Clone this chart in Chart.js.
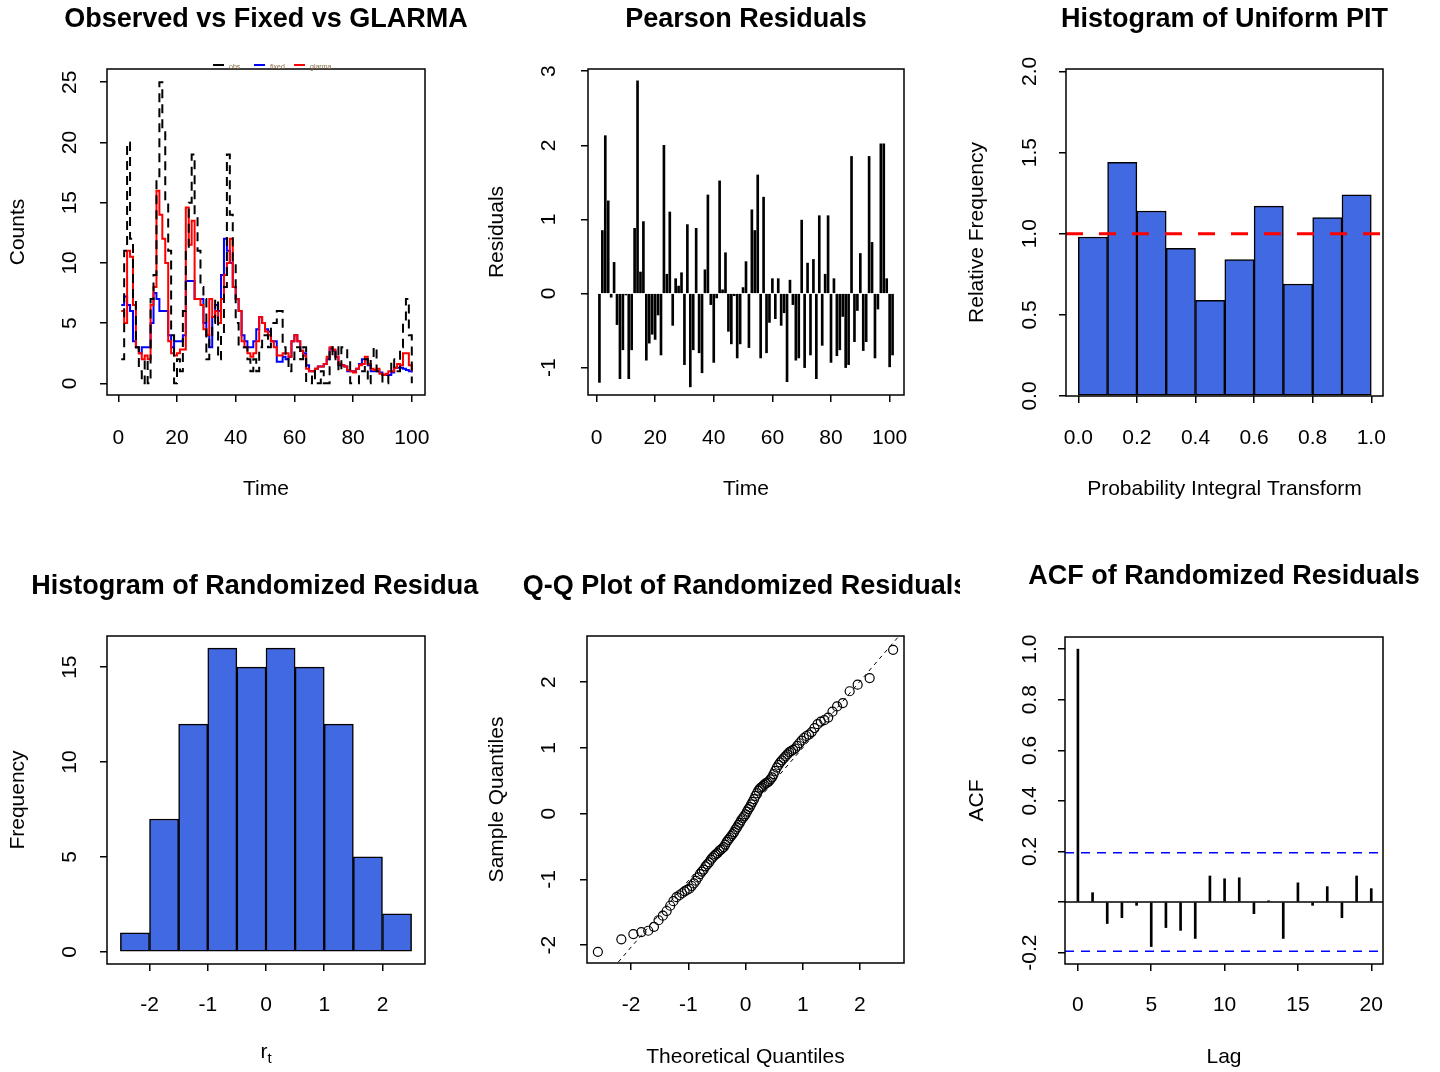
<!DOCTYPE html>
<html>
<head>
<meta charset="utf-8">
<script src="https://cdn.jsdelivr.net/npm/chart.js@4.4.1/dist/chart.umd.min.js"></script>
<style>
  html, body { margin: 0; padding: 0; background: #fff; }
  #wrap { position: relative; width: 1440px; height: 1072px; overflow: hidden; background: #fff; }
  #wrap canvas { position: absolute; }
</style>
</head>
<body>
<div id="wrap">
  <canvas id="p1" width="480" height="536" style="left:0px;top:0px"></canvas>
  <canvas id="p2" width="480" height="536" style="left:480px;top:0px"></canvas>
  <canvas id="p3" width="480" height="536" style="left:960px;top:0px"></canvas>
  <canvas id="p4" width="480" height="536" style="left:0px;top:536px"></canvas>
  <canvas id="p5" width="480" height="536" style="left:480px;top:536px"></canvas>
  <canvas id="p6" width="480" height="536" style="left:960px;top:536px"></canvas>
</div>
<script>
// --- data ---

// panel 1: observed counts, fixed fit, glarma fit
const obsCounts = [2, 11, 20, 12, 7, 3, 1, 0, 2, 0,
  7, 9, 17, 25, 21, 15, 11, 4, 0, 2,
  1, 6, 11, 15, 19, 14, 11, 8, 7, 2,
  4, 5, 7, 2, 4, 8, 19, 14, 10, 5,
  3, 3, 3, 2, 1, 2, 1, 3, 4, 4,
  3, 5, 5, 6, 6, 3, 2, 1, 2, 3,
  3, 2, 3, 0, 0, 1, 0, 0, 1, 0,
  0, 3, 2, 3, 1, 3, 3, 2, 0, 0,
  0, 1, 1, 2, 0, 2, 3, 1, 1, 0,
  0, 1, 2, 1, 1, 3, 5, 7, 4, 0]
const fixedFit = [6.5, 7.2, 6.5, 6, 3.5, 3, 2.5, 3, 3, 3,
  5, 7.5, 7, 6, 6, 6, 4, 3, 3.5, 3.5,
  3.5, 4, 8.5, 8.5, 8.5, 7, 7, 7, 5, 4,
  3, 5.5, 6.5, 6, 9, 12, 11, 10, 8, 7,
  6, 4, 3.5, 3, 3, 3.5, 4.5, 5.5, 5, 4.5,
  4.3, 3.5, 3.5, 1.8, 1.8, 2.2, 2, 2.2, 3.5, 4,
  3.5, 2.7, 2.5, 1.5, 1, 1, 1.2, 1.4, 1.4, 1.6,
  2, 2.9, 2.7, 2.2, 1.5, 1.5, 1.4, 1, 1, 1,
  1.2, 1.6, 2, 2, 1.5, 1, 1, 1, 0.9, 0.7,
  0.7, 0.7, 0.9, 1.3, 1.3, 1.3, 1.2, 1.1, 1, 0.9]
const glarmaFit = [6, 5, 11, 10.5, 6.5, 3, 2.5, 2, 2.3, 2,
  6.5, 8, 16, 14, 12, 10, 3.5, 2.5, 2.3, 2.5,
  2.8, 2.8, 14.6, 11.5, 13.5, 7, 7, 6.5, 4.5, 4,
  7, 5.5, 6, 5, 7, 9, 10, 12, 8, 7,
  6, 3.5, 3, 2.5, 2.2, 2.5, 3.5, 5.5, 5, 4.3,
  4, 3.5, 3, 2.3, 2.3, 2.5, 2.5, 2.2, 3.5, 4,
  3.5, 2.7, 2.3, 1.2, 1, 1, 1.2, 1.4, 1.4, 1.6,
  2.2, 3, 2.8, 2.2, 1.6, 1.5, 1.4, 1.1, 1, 0.9,
  1.2, 1.5, 1.6, 2.2, 1.6, 1.2, 1.1, 1.2, 0.8, 0.7,
  0.8, 1, 1, 1.3, 1.6, 1.5, 2.5, 2.5, 1.5, 1]

// panel 2: pearson residuals
const pearsonResid = [-1.2, 0.85, 2.13, 1.25, -0.05, 0.42, -0.42, -1.15, -0.76, -0.02,
  -1.15, -0.76, 0.88, 2.87, 0.29, 0.97, -0.9, -0.67, -0.55, -0.62,
  -0.29, -0.83, 2.0, 0.26, 1.1, -0.43, 0.2, 0.1, 0.28, -0.96,
  0.93, -1.26, -0.76, 0.88, -0.8, -1.07, 0.32, 1.33, -0.15, -0.93,
  -0.06, 1.52, 0.05, 0.55, -0.51, -0.68, -0.03, -0.87, -0.68, 0.08,
  0.43, -0.73, 1.13, 0.85, 1.6, -0.87, 1.3, -0.8, -0.39, 0.2,
  -0.34, 0.2, -0.43, -0.26, -1.19, 0.18, -0.15, -0.9, -0.87, 0.99,
  -1.0, 0.41, -0.83, 0.46, -1.15, 1.05, -0.7, 0.26, 1.05, -0.93,
  0.2, -0.84, -0.76, -0.31, -1.0, -0.96, 1.85, -0.65, -0.23, 0.54,
  -0.77, -0.65, 1.85, 0.69, -0.87, -0.21, 2.02, 2.02, 0.2, -0.99, -0.83]

// panel 3: PIT histogram
const pitBreaks = [0, 0.1, 0.2, 0.3, 0.4, 0.5, 0.6, 0.7, 0.8, 0.9, 1.0]
const pitDensity = [0.98, 1.44, 1.14, 0.91, 0.59, 0.84, 1.17, 0.69, 1.10, 1.24]

// panel 4: randomized residual histogram
const rrBreaks = [-2.5, -2, -1.5, -1, -0.5, 0, 0.5, 1, 1.5, 2, 2.5]
const rrCounts = [1, 7, 12, 16, 15, 16, 15, 12, 5, 2]

// panel 5: normal Q-Q
const qqTheoretical = [-2.58, -2.17, -1.96, -1.82, -1.70, -1.60, -1.52, -1.445, -1.378, -1.316,
  -1.260, -1.206, -1.156, -1.109, -1.064, -1.021, -0.980, -0.941, -0.903, -0.867,
  -0.831, -0.797, -0.763, -0.731, -0.698, -0.667, -0.636, -0.606, -0.577, -0.547,
  -0.519, -0.490, -0.462, -0.435, -0.408, -0.381, -0.354, -0.328, -0.302, -0.276,
  -0.250, -0.224, -0.199, -0.174, -0.149, -0.124, -0.099, -0.075, -0.050, -0.025,
  0,
  0.025, 0.050, 0.075, 0.099, 0.124, 0.149, 0.174, 0.199, 0.224, 0.250,
  0.276, 0.302, 0.328, 0.354, 0.381, 0.408, 0.435, 0.462, 0.490, 0.519,
  0.547, 0.577, 0.606, 0.636, 0.667, 0.698, 0.731, 0.763, 0.797, 0.831,
  0.867, 0.903, 0.941, 0.980, 1.021, 1.064, 1.109, 1.156, 1.206, 1.260,
  1.316, 1.378, 1.445, 1.52, 1.60, 1.70, 1.82, 1.96, 2.17, 2.58]
const qqSample = [-2.10,
  -1.91, -1.83, -1.80, -1.78, -1.72, -1.62, -1.55,
  -1.48, -1.40, -1.33, -1.27, -1.24, -1.21, -1.18, -1.16, -1.14, -1.10, -1.06, -1.02,
  -0.97, -0.92, -0.88, -0.85, -0.80, -0.77, -0.74, -0.70, -0.67, -0.64, -0.62, -0.60, -0.57, -0.55, -0.53, -0.51,
  -0.47, -0.43, -0.40, -0.37, -0.34, -0.31, -0.28, -0.24, -0.21, -0.17, -0.14, -0.10, -0.07, -0.04, -0.01,
  0.03, 0.07, 0.10, 0.14, 0.18, 0.22, 0.27, 0.31, 0.35, 0.38, 0.40, 0.42, 0.44, 0.46, 0.47, 0.49,
  0.52, 0.55, 0.60, 0.65, 0.70, 0.74, 0.78, 0.81, 0.84, 0.87, 0.90, 0.93, 0.95, 0.97, 0.99,
  1.03, 1.07, 1.11, 1.15, 1.18, 1.20, 1.24, 1.30, 1.36, 1.40, 1.42, 1.46,
  1.55, 1.63, 1.68, 1.86, 1.96,
  2.06, 2.49]
const qqSlope = 1.01
const qqIntercept = -0.01

// panel 6: ACF
const acfLags = [0, 1, 2, 3, 4, 5, 6, 7, 8, 9, 10, 11, 12, 13, 14, 15, 16, 17, 18, 19, 20]
const acfValues = [1.0, 0.037, -0.085, -0.062, -0.013, -0.176, -0.101, -0.112, -0.144, 0.103,
  0.092, 0.096, -0.046, 0.005, -0.144, 0.076, -0.013, 0.061, -0.062, 0.103, 0.053]
const acfBound = 0.195

// --- look ---
const W = 480, H = 536
const FS = 21
const TL = 7
const FONT = "'Liberation Sans', Arial, Helvetica, sans-serif"
const ROYAL = '#4169E1'

Chart.defaults.font.family = FONT
Chart.defaults.font.size = FS
Chart.defaults.color = '#000'
Chart.defaults.animation = false
Chart.defaults.plugins.legend.display = false
Chart.defaults.plugins.tooltip.enabled = false

const measure = document.createElement('canvas').getContext('2d')
measure.font = FS + 'px ' + FONT

// builds layout + scales so the plot box lands where R put it
const axes = (p) => {
  const [l, t, r, b] = p.box
  const lh = FS * 1.2
  const xfmt = p.xFmt || (v => String(v))
  const yfmt = p.yFmt || (v => String(v))
  const widest = Math.max(...p.yTicks.map(v => measure.measureText(yfmt(v)).width))
  const grid = {drawOnChartArea: false, drawTicks: true, tickLength: TL, color: '#000', tickColor: '#000', lineWidth: 1.5, offset: false}
  return {
    layout: {padding: {left: 0, top: t, right: W - r, bottom: 0}},
    scales: {
      x: {
        type: 'linear', position: 'bottom', min: p.xRange[0], max: p.xRange[1], offset: false,
        afterBuildTicks: s => { s.ticks = p.xTicks.map(v => ({value: v})) },
        afterFit: s => { s.height = H - b },
        grid: grid, border: {display: false},
        ticks: {autoSkip: false, maxRotation: 0, minRotation: 0, padding: p.xTickY - b - TL - lh / 2, callback: v => xfmt(v)},
        title: {display: !!p.xTitle, text: p.xTitle || '', padding: {top: 0, bottom: H - (p.xTitleY || H) - lh / 2}}
      },
      y: {
        type: 'linear', position: 'left', min: p.yRange[0], max: p.yRange[1],
        afterBuildTicks: s => { s.ticks = p.yTicks.map(v => ({value: v})) },
        afterFit: s => { s.width = l },
        grid: grid, border: {display: false},
        ticks: {autoSkip: false, minRotation: 90, maxRotation: 90, crossAlign: 'center', padding: l - TL - p.yTickX - widest / 2, callback: v => yfmt(v)},
        title: {display: true, text: p.yTitle, padding: {top: p.yTitleX - lh / 2, bottom: 0}}
      }
    }
  }
}

// R-style extras: box, main title, reference lines, tiny legend, subscript label
const rPlot = {
  id: 'rPlot',
  afterDatasetsDraw(chart, args, o) {
    const {ctx, chartArea: a, scales: {x, y}} = chart
    ctx.save()
    ctx.beginPath()
    ctx.rect(a.left, a.top, a.right - a.left, a.bottom - a.top)
    ctx.clip()
    ;(o.hlines || []).forEach(h => {
      const py = y.getPixelForValue(h.y)
      ctx.strokeStyle = h.color
      ctx.lineWidth = h.width
      ctx.setLineDash(h.dash || [])
      ctx.beginPath()
      ctx.moveTo(a.left, py)
      ctx.lineTo(a.right, py)
      ctx.stroke()
    })
    if (o.abline) {
      const {a: ic, b: sl} = o.abline
      ctx.strokeStyle = '#000'
      ctx.lineWidth = 1
      ctx.setLineDash([4, 4])
      ctx.beginPath()
      ctx.moveTo(x.getPixelForValue(x.min), y.getPixelForValue(ic + sl * x.min))
      ctx.lineTo(x.getPixelForValue(x.max), y.getPixelForValue(ic + sl * x.max))
      ctx.stroke()
    }
    ctx.restore()
  },
  afterDraw(chart, args, o) {
    const {ctx, chartArea: a} = chart
    ctx.save()
    ctx.strokeStyle = '#000'
    ctx.lineWidth = 1.5
    ctx.setLineDash([])
    ctx.strokeRect(a.left, a.top, a.right - a.left, a.bottom - a.top)

    const cx = (a.left + a.right) / 2
    ctx.fillStyle = '#000'
    ctx.font = 'bold 27px ' + FONT
    ctx.textAlign = 'center'
    ctx.textBaseline = 'middle'
    ctx.fillText(o.title, cx, o.titleY)

    if (o.legend) {
      ctx.font = '7px ' + FONT
      ctx.textAlign = 'left'
      o.legend.forEach(it => {
        ctx.strokeStyle = it.color
        ctx.lineWidth = 2
        ctx.beginPath()
        ctx.moveTo(it.x, 65)
        ctx.lineTo(it.x + 11, 65)
        ctx.stroke()
        ctx.fillStyle = '#8a6a45'
        ctx.fillText(it.text, it.x + 16, 67)
      })
    }

    if (o.subLabel) {
      ctx.fillStyle = '#000'
      ctx.textAlign = 'left'
      ctx.font = FS + 'px ' + FONT
      const rw = ctx.measureText(o.subLabel[0]).width
      ctx.font = Math.round(FS * 0.7) + 'px ' + FONT
      const tw = ctx.measureText(o.subLabel[1]).width
      const sx = cx - (rw + tw) / 2
      ctx.font = FS + 'px ' + FONT
      ctx.fillText(o.subLabel[0], sx, o.subY)
      ctx.font = Math.round(FS * 0.7) + 'px ' + FONT
      ctx.fillText(o.subLabel[1], sx + rw, o.subY + 7)
    }
    ctx.restore()
  }
}

const make = (id, type, datasets, spec, extra) => new Chart(document.getElementById(id), {
  type: type,
  data: {datasets: datasets},
  options: {
    responsive: false,
    animation: false,
    ...axes(spec),
    plugins: {legend: {display: false}, tooltip: {enabled: false}, rPlot: extra}
  },
  plugins: [rPlot]
})

const time = obsCounts.map((_, i) => i + 1)
const residTime = pearsonResid.map((_, i) => i + 1)
const mids = br => br.slice(0, -1).map((v, i) => (v + br[i + 1]) / 2)

// 1. Observed vs Fixed vs GLARMA
make('p1', 'line', [
  {label: 'obs', data: time.map((t, i) => ({x: t, y: obsCounts[i]})), stepped: 'before', borderColor: '#000', borderWidth: 2, borderDash: [9, 6], pointRadius: 0, fill: false, order: 0},
  {label: 'glarma', data: time.map((t, i) => ({x: t, y: glarmaFit[i]})), stepped: 'before', borderColor: '#ff0000', borderWidth: 2, pointRadius: 0, fill: false, order: 1},
  {label: 'fixed', data: time.map((t, i) => ({x: t, y: fixedFit[i]})), stepped: 'before', borderColor: '#0000ff', borderWidth: 2, pointRadius: 0, fill: false, order: 2}
], {
  box: [107, 69, 425, 395], xRange: [-3.85, 104.5], yRange: [-0.97, 26.1],
  xTicks: [0, 20, 40, 60, 80, 100], yTicks: [0, 5, 10, 15, 20, 25],
  xTickY: 438, xTitle: 'Time', xTitleY: 489, yTickX: 70, yTitle: 'Counts', yTitleX: 18
}, {
  title: 'Observed vs Fixed vs GLARMA', titleY: 20,
  legend: [{x: 213, color: '#000', text: 'obs'}, {x: 254, color: '#0000ff', text: 'fixed'}, {x: 294, color: '#ff0000', text: 'glarma'}]
})

// 2. Pearson Residuals
make('p2', 'bar', [
  {data: residTime.map((t, i) => ({x: t, y: pearsonResid[i]})), backgroundColor: '#000', borderWidth: 0, barThickness: 2}
], {
  box: [108, 69, 424, 395], xRange: [-2.9, 104.9], yRange: [-1.37, 3.03],
  xTicks: [0, 20, 40, 60, 80, 100], yTicks: [-1, 0, 1, 2, 3],
  xTickY: 438, xTitle: 'Time', xTitleY: 489, yTickX: 69, yTitle: 'Residuals', yTitleX: 17
}, {title: 'Pearson Residuals', titleY: 20})

// 3. Histogram of Uniform PIT
make('p3', 'bar', [
  {data: mids(pitBreaks).map((m, i) => ({x: m, y: pitDensity[i]})), backgroundColor: ROYAL, borderColor: '#000', borderWidth: 1.5, borderSkipped: false, barPercentage: 1, categoryPercentage: 1}
], {
  box: [106, 69, 423, 396], xRange: [-0.042, 1.04], yRange: [0, 2.015],
  xTicks: [0, 0.2, 0.4, 0.6, 0.8, 1.0], yTicks: [0, 0.5, 1.0, 1.5, 2.0],
  xFmt: v => v.toFixed(1), yFmt: v => v.toFixed(1),
  xTickY: 438, xTitle: 'Probability Integral Transform', xTitleY: 489, yTickX: 70, yTitle: 'Relative Frequency', yTitleX: 17
}, {title: 'Histogram of Uniform PIT', titleY: 20, hlines: [{y: 1, color: '#ff0000', width: 3, dash: [17, 16]}]})

// 4. Histogram of Randomized Residuals
make('p4', 'bar', [
  {data: mids(rrBreaks).map((m, i) => ({x: m, y: rrCounts[i]})), backgroundColor: ROYAL, borderColor: '#000', borderWidth: 1.5, borderSkipped: false, barPercentage: 1, categoryPercentage: 1}
], {
  box: [107, 100, 425, 428], xRange: [-2.73, 2.73], yRange: [-0.64, 16.64],
  xTicks: [-2, -1, 0, 1, 2], yTicks: [0, 5, 10, 15],
  xTickY: 469, yTickX: 70, yTitle: 'Frequency', yTitleX: 18
}, {title: 'Histogram of Randomized Residuals', titleY: 51, subLabel: ['r', 't'], subY: 516})

// 5. Q-Q Plot
make('p5', 'scatter', [
  {data: qqTheoretical.map((q, i) => ({x: q, y: qqSample[i]})), pointRadius: 4.5, pointBorderWidth: 1.2, pointBorderColor: '#000', pointBackgroundColor: 'rgba(0,0,0,0)', showLine: false}
], {
  box: [107, 100, 424, 427], xRange: [-2.77, 2.77], yRange: [-2.27, 2.70],
  xTicks: [-2, -1, 0, 1, 2], yTicks: [-2, -1, 0, 1, 2],
  xTickY: 469, xTitle: 'Theoretical Quantiles', xTitleY: 521, yTickX: 69, yTitle: 'Sample Quantiles', yTitleX: 17
}, {title: 'Q-Q Plot of Randomized Residuals', titleY: 51, abline: {a: qqIntercept, b: qqSlope}})

// 6. ACF
make('p6', 'bar', [
  {data: acfLags.map((l, i) => ({x: l, y: acfValues[i]})), backgroundColor: '#000', borderWidth: 0, barThickness: 2}
], {
  box: [105, 101, 423, 428], xRange: [-0.88, 20.8], yRange: [-0.245, 1.048],
  xTicks: [0, 5, 10, 15, 20], yTicks: [-0.2, 0, 0.2, 0.4, 0.6, 0.8, 1.0],
  yFmt: v => Math.abs(v) < 1e-9 ? '' : v.toFixed(1),
  xTickY: 469, xTitle: 'Lag', xTitleY: 521, yTickX: 70, yTitle: 'ACF', yTitleX: 17
}, {
  title: 'ACF of Randomized Residuals', titleY: 41,
  hlines: [
    {y: 0, color: '#000', width: 1.5},
    {y: acfBound, color: '#0000ff', width: 1.5, dash: [9, 7]},
    {y: -acfBound, color: '#0000ff', width: 1.5, dash: [9, 7]}
  ]
})
</script>
</body>
</html>
